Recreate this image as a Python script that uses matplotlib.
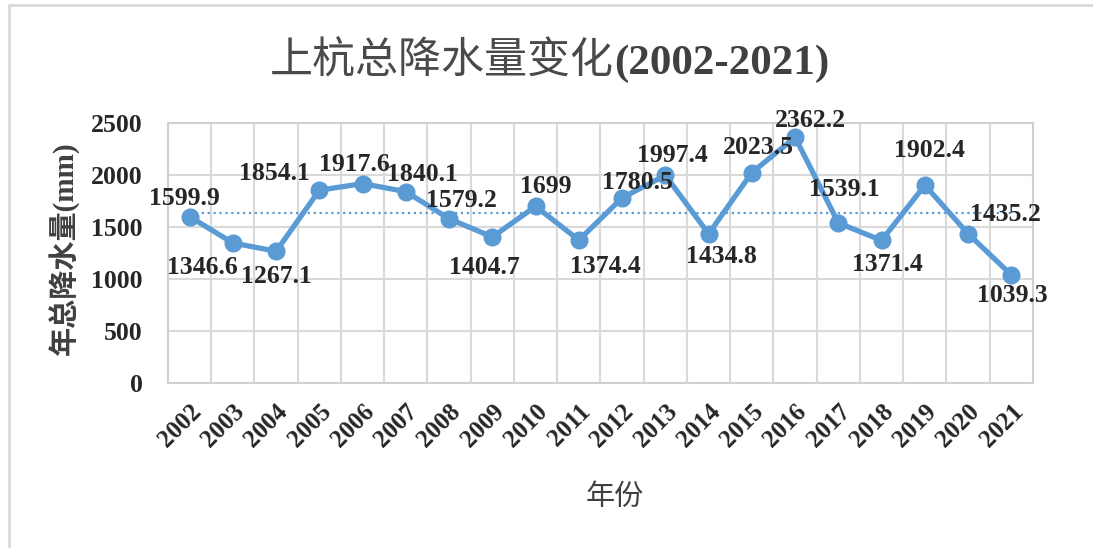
import matplotlib.pyplot as plt
from matplotlib.patches import Rectangle
import numpy as np

# annual precipitation, Shanghang
years = [str(y) for y in range(2002, 2022)]
rain = [1599.9, 1346.6, 1267.1, 1854.1, 1917.6, 1840.1, 1579.2, 1404.7, 1699,
        1374.4, 1780.5, 1997.4, 1434.8, 2023.5, 2362.2, 1539.1, 1371.4, 1902.4,
        1435.2, 1039.3]
yticks = [0, 500, 1000, 1500, 2000, 2500]

# label offsets from each marker (points)
label_off = [(-4, 13), (-22, -18), (0, -18), (-32, 12), (-6, 14), (12, 12),
             (9, 13), (-6, -22), (7, 14), (19, -19), (11, 11), (5, 14),
             (9, -16), (5, 18), (11, 12), (4, 24), (4, -17), (3, 25),
             (27, 14), (1, -15)]

blue = '#5B9BD5'
txt = '#262626'
serif_cjk = ['Liberation Serif', 'Noto Sans CJK SC']

fig = plt.figure(figsize=(10.93, 5.48), dpi=100)
ax = fig.add_axes([0.1537, 0.301, 0.7914, 0.4745])

x = np.arange(len(years))
ax.plot(x, rain, color=blue, lw=3.8, marker='o', ms=12, zorder=3)
# average line across the series
avg = np.mean(rain)
ax.plot([x[0], x[-1]], [avg, avg], color=blue, lw=1.6, ls=':', zorder=2)

for i, v in enumerate(rain):
    dx, dy = label_off[i]
    ax.annotate(f'{v:g}', (i, v), xytext=(dx, dy), textcoords='offset points',
                ha='center', va='center', fontsize=18.5, fontweight='bold',
                family='Liberation Serif', color=txt, zorder=4)

ax.set_xlim(-0.5, len(years) - 0.5)
ax.set_ylim(0, 2500)
ax.set_yticks(yticks)
ax.set_yticklabels([str(t) for t in yticks], fontsize=18.5, fontweight='bold',
                   family='Liberation Serif', color=txt)
ax.set_xticks(x)
ax.set_xticklabels(years, rotation=45, ha='right', rotation_mode='anchor',
                   fontsize=18, fontweight='bold', family='Liberation Serif',
                   color=txt)
ax.set_xticks(np.arange(-0.5, len(years)), minor=True)
ax.tick_params(length=0, which='both')
ax.tick_params(axis='y', pad=18)
ax.tick_params(axis='x', pad=12)
ax.grid(True, axis='y', color='#d9d9d9', lw=1.5)
ax.grid(True, axis='x', which='minor', color='#d9d9d9', lw=1.5)
ax.set_axisbelow(True)
for s in ax.spines.values():
    s.set_color('#d0d0d0')
    s.set_linewidth(1.5)

ax.set_ylabel('年总降水量(mm)', fontsize=21, fontweight='bold', family=serif_cjk,
              color='#404040')
ax.yaxis.set_label_coords(-0.102, 0.52)
ax.set_xlabel('年份', fontsize=21, family='Noto Sans CJK SC', color='#404040')
ax.xaxis.set_label_coords(0.517, -0.38)

# title: CJK part regular, year range in bold serif
t1 = fig.text(270 / 1093, 0.865, '上杭总降水量变化', ha='left', va='baseline',
              fontsize=31, family='Noto Sans CJK SC', color='#4a4a4a')
fig.canvas.draw()
bb = t1.get_window_extent().transformed(fig.transFigure.inverted())
fig.text(bb.x1, 0.865, '(2002-2021)', ha='left', va='baseline', fontsize=31,
         fontweight='bold', family='Liberation Serif', color='#404040')

# chart frame
fig.patches.append(Rectangle((9 / 1093, -0.1), 1.2, 1.1 - 5 / 548,
                             transform=fig.transFigure, fill=False,
                             ec='#d9d9d9', lw=2))

fig.savefig('out.png', dpi=100)
